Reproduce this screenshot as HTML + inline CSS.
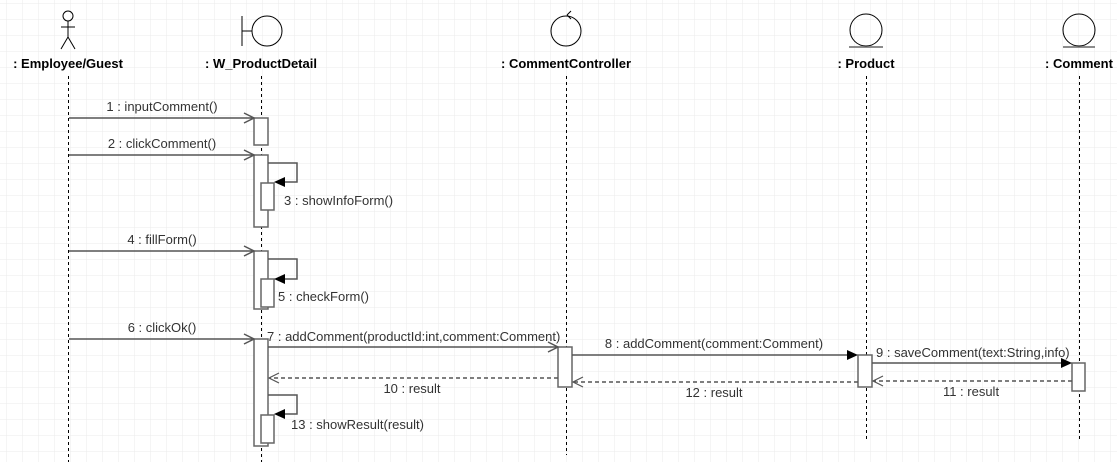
<!DOCTYPE html>
<html><head><meta charset="utf-8"><style>
html,body{margin:0;padding:0;background:#fff;}
svg{display:block;}
text{font-family:"Liberation Sans",Arial,sans-serif;font-size:13px;fill:#333;}
.h{font-weight:bold;fill:#000;}
</style></head><body>
<svg width="1117" height="462" viewBox="0 0 1117 462" xmlns="http://www.w3.org/2000/svg">
<defs>
<pattern id="g" x="6" y="3" width="16" height="16" patternUnits="userSpaceOnUse">
<path d="M0 0H16M0 0V16" stroke="#ebebeb" stroke-width="1" fill="none"/>
</pattern>
</defs>
<rect width="1117" height="462" fill="url(#g)"/>

<g stroke="#000" fill="none" stroke-width="1">
<circle cx="68" cy="16" r="5"/>
<path d="M68 21V37M61 27H75M68 37L61 49M68 37L75 49"/>
<path d="M242 16V46M242 31H252"/>
<circle cx="267" cy="31" r="15"/>
<circle cx="566" cy="31" r="15"/>
<path d="M567 15L571 11M567 15L571 19"/>
<circle cx="866" cy="30" r="16"/>
<circle cx="1079" cy="30" r="16"/>
</g>
<path d="M849 47H883M1063 47H1095" stroke="#666" stroke-width="1.5"/>
<text class="h" x="68" y="68" text-anchor="middle">: Employee/Guest</text>
<text class="h" x="261" y="68" text-anchor="middle">: W_ProductDetail</text>
<text class="h" x="566" y="68" text-anchor="middle">: CommentController</text>
<text class="h" x="866" y="68" text-anchor="middle">: Product</text>
<text class="h" x="1079" y="68" text-anchor="middle">: Comment</text>

<g stroke="#000" stroke-dasharray="3,3" stroke-width="1">
<path d="M68.5 76V462M261.5 76V462M566.5 76V455M866.5 76V442M1079.5 76V442"/>
</g>

<g fill="#fff" stroke="#666" stroke-width="1.5">
<rect x="254" y="118" width="14" height="27"/>
<rect x="254" y="155" width="14" height="72"/>
<rect x="261" y="183" width="13" height="27"/>
<rect x="254" y="251" width="14" height="58"/>
<rect x="261" y="279" width="13" height="28"/>
<rect x="254" y="339" width="14" height="107"/>
<rect x="261" y="415" width="13" height="28"/>
<rect x="558" y="347" width="14" height="40"/>
<rect x="858" y="355" width="14" height="32"/>
<rect x="1072" y="363" width="13" height="28"/>
</g>

<g stroke="#555" stroke-width="1.5" fill="none">
<path d="M69 118H254M244 113L254 118L244 123"/>
<path d="M69 155H254M244 150L254 155L244 160"/>
<path d="M268 163H297V182H284"/>
<path d="M69 251H254M244 246L254 251L244 256"/>
<path d="M268 259H297V279H284"/>
<path d="M69 339H254M244 334L254 339L244 344"/>
<path d="M268 347H558M548 342L558 347L548 352"/>
<path d="M572 355H848"/>
<path d="M872 363H1062"/>
<path d="M268 395H297V414H284"/>
</g>
<g fill="#000">
<path d="M274 182L285 177V187Z"/>
<path d="M274 279L285 274V284Z"/>
<path d="M858 355L847 350V360Z"/>
<path d="M1072 363L1061 358V368Z"/>
<path d="M274 414L285 409V419Z"/>
</g>
<g stroke="#555" stroke-width="1.5" fill="none" stroke-dasharray="4,3">
<path d="M558 378H270"/>
<path d="M858 382H574"/>
<path d="M1072 381H874"/>
</g>
<g stroke="#555" stroke-width="1.2" fill="none">
<path d="M279 373L269 378L279 383"/>
<path d="M583 377L573 382L583 387"/>
<path d="M883 376L873 381L883 386"/>
</g>

<text x="162" y="111" text-anchor="middle">1 : inputComment()</text>
<text x="162" y="148" text-anchor="middle">2 : clickComment()</text>
<text x="284" y="205">3 : showInfoForm()</text>
<text x="162" y="244" text-anchor="middle">4 : fillForm()</text>
<text x="278" y="301">5 : checkForm()</text>
<text x="162" y="332" text-anchor="middle">6 : clickOk()</text>
<text x="267" y="341">7 : addComment(productId:int,comment:Comment)</text>
<text x="714" y="348" text-anchor="middle">8 : addComment(comment:Comment)</text>
<text x="876" y="357">9 : saveComment(text:String,info)</text>
<text x="412" y="393" text-anchor="middle">10 : result</text>
<text x="714" y="397" text-anchor="middle">12 : result</text>
<text x="971" y="396" text-anchor="middle">11 : result</text>
<text x="291" y="429">13 : showResult(result)</text>
</svg>
</body></html>
